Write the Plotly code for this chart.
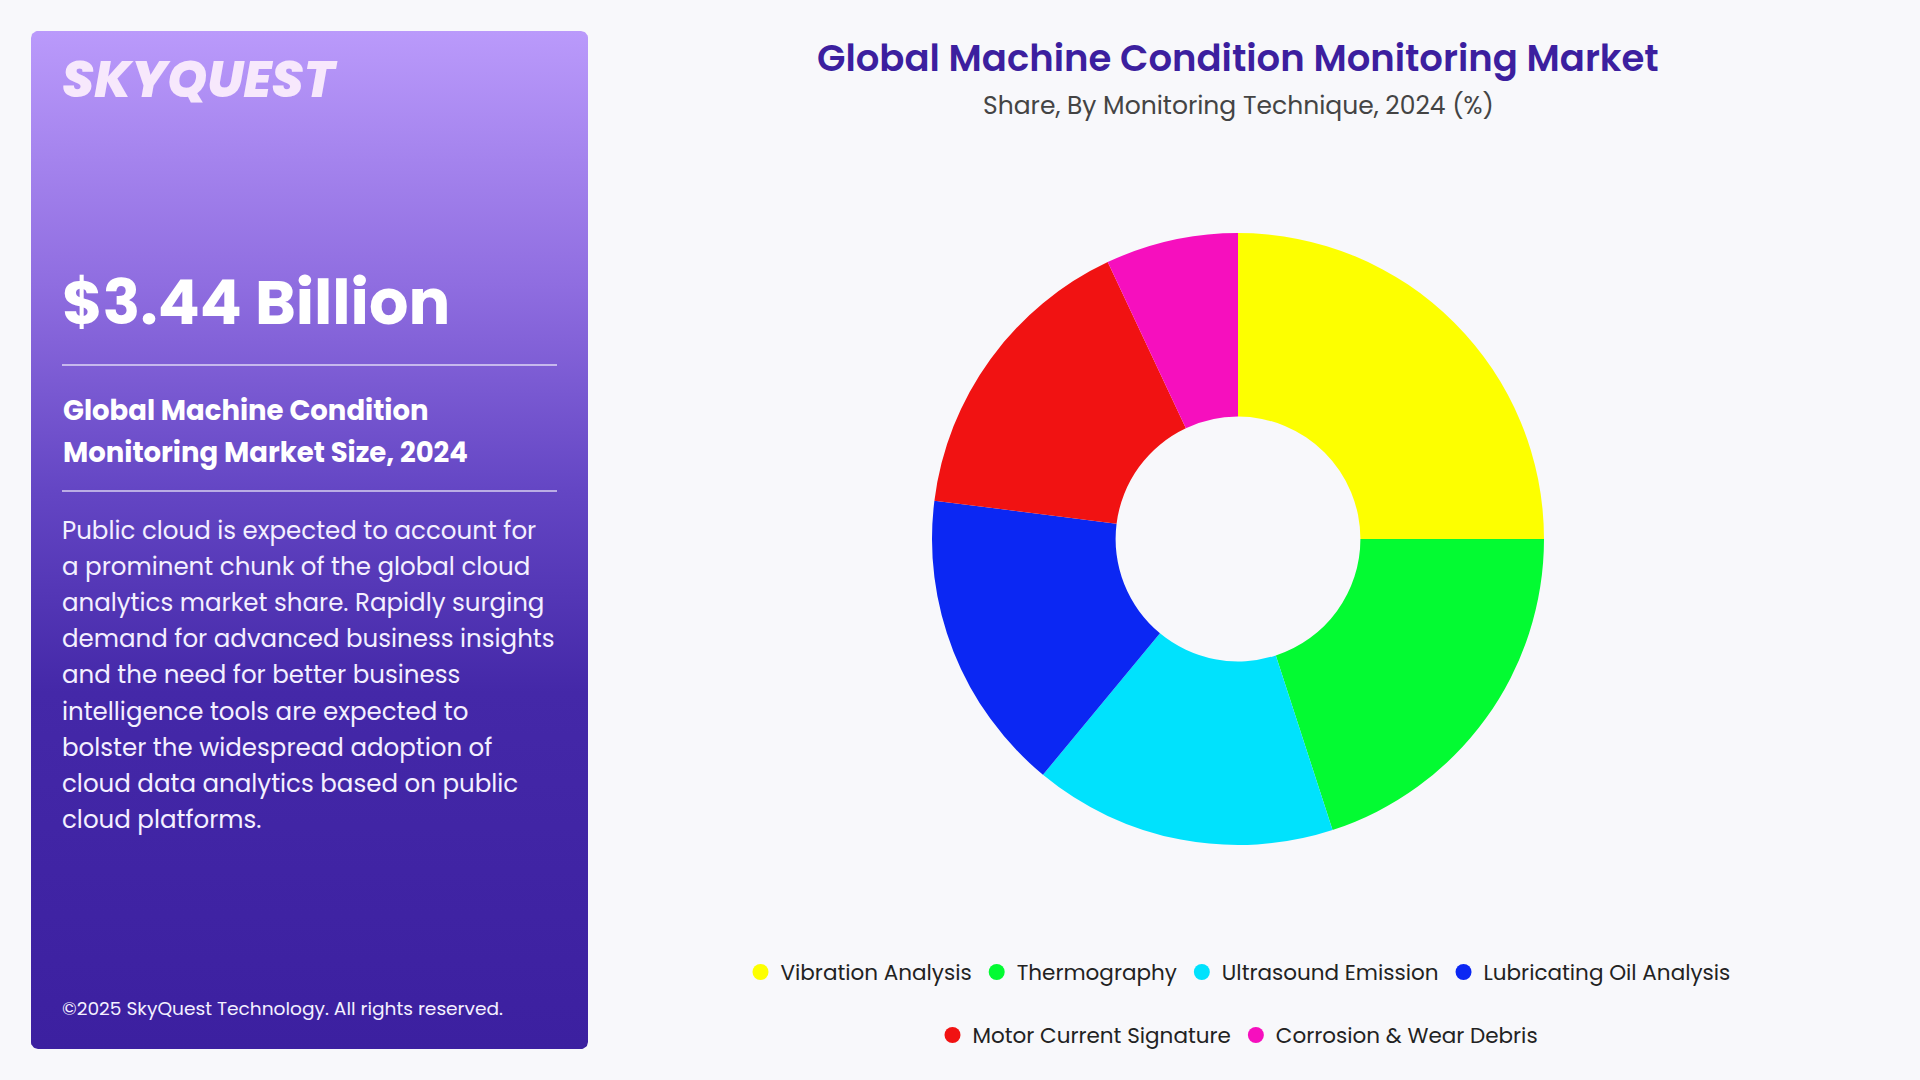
import numpy as np
import plotly.graph_objects as go

# ---------------- data ----------------
categories = ["Vibration Analysis", "Thermography", "Ultrasound Emission",
              "Lubricating Oil Analysis", "Motor Current Signature", "Corrosion & Wear Debris"]
shares = [25, 20, 16, 16, 16, 7]
colors = ["#FDFF00", "#03FB32", "#00E2FD", "#0B27F3", "#F11212", "#F60FBE"]
legend_rows = ["legend", "legend", "legend", "legend", "legend2", "legend2"]

title_text = "Global Machine Condition Monitoring Market"
subtitle_text = "Share, By Monitoring Technique, 2024 (%)"
headline_value = "$3.44 Billion"
headline_label = ["Global Machine Condition", "Monitoring Market Size, 2024"]
paragraph_lines = [
    "Public cloud is expected to account for",
    "a prominent chunk of the global cloud",
    "analytics market share. Rapidly surging",
    "demand for advanced business insights",
    "and the need for better business",
    "intelligence tools are expected to",
    "bolster the widespread adoption of",
    "cloud data analytics based on public",
    "cloud platforms.",
]
copyright_text = "©2025 SkyQuest Technology. All rights reserved."
logo_text = "SKYQUEST"

W, H = 1920, 1080
BG = "#F8F8FB"
FONT = "Poppins, 'Open Sans', sans-serif"

fig = go.Figure()

# ---------------- left panel (gradient rounded rect) ----------------
x0, x1, y0, y1, r = 31, 588, 31, 1049, 7
pts_x, pts_y = [], []
for cx, cy, a0 in [(x1 - r, y0 + r, -90), (x1 - r, y1 - r, 0), (x0 + r, y1 - r, 90), (x0 + r, y0 + r, 180)]:
    ang = np.radians(np.linspace(a0, a0 + 90, 10))
    pts_x += list(cx + r * np.cos(ang))
    pts_y += list(cy + r * np.sin(ang))
pts_x.append(pts_x[0]); pts_y.append(pts_y[0])
fig.add_trace(go.Scatter(
    x=pts_x, y=pts_y, mode="lines", fill="toself", line=dict(width=0),
    fillgradient=dict(type="vertical", start=y0, stop=y1,
                      colorscale=[[0, "#BA9AFB"], [0.25, "#8F6DE0"], [0.45, "#6446C4"],
                                  [0.65, "#4428A8"], [1, "#3C20A0"]]),
    hoverinfo="skip", showlegend=False, xaxis="x", yaxis="y"))

# ---------------- donut ----------------
cx_px, cy_px, R = 1238, 539, 306
fig.add_trace(go.Pie(
    labels=categories, values=shares, marker=dict(colors=colors, line=dict(width=0)),
    hole=0.4, sort=False, direction="clockwise", rotation=0, textinfo="none",
    showlegend=False,
    domain=dict(x=[(cx_px - R) / W, (cx_px + R) / W], y=[1 - (cy_px + R) / H, 1 - (cy_px - R) / H]),
))

# legend entries (two rows)
for cat, col, lg in zip(categories, colors, legend_rows):
    fig.add_trace(go.Scatter(x=[None], y=[None], mode="markers", name=cat,
                             marker=dict(size=16, color=col, symbol="circle"),
                             legend=lg, xaxis="x", yaxis="y"))

# ---------------- text ----------------
ann = []
def txt(x, y, s, size, color="white", weight=400, xanchor="left", italic=False):
    ann.append(dict(x=x, y=y, xref="x", yref="y", text=s, showarrow=False,
                    xanchor=xanchor, yanchor="middle",
                    font=dict(family=FONT, size=size, color=color, weight=weight,
                              style="italic" if italic else "normal")))

txt(60, 79, logo_text, 51, color="#F7E8FC", weight=800, italic=True)
txt(60, 302, headline_value, 62, weight=700)
txt(61, 410, headline_label[0], 27.5, weight=700)
txt(61, 452, headline_label[1], 27.5, weight=700)
for i, line in enumerate(paragraph_lines):
    txt(60, 530 + i * 36.2, line, 24.5, color="#F4F0FF")
txt(60, 1008, copyright_text, 18.6, color="#F4F0FF")
txt(1238, 58, title_text, 37, color="#3C1F9F", weight=600, xanchor="center")
txt(1238, 105, subtitle_text, 25, color="#444444", xanchor="center")

shapes = [dict(type="line", xref="x", yref="y", x0=62, x1=557, y0=yy, y1=yy,
               line=dict(color="rgba(255,255,255,0.75)", width=1.5)) for yy in (365, 491)]

legend_common = dict(orientation="h", xanchor="center", x=cx_px / W, yanchor="middle",
                     bgcolor="rgba(0,0,0,0)", font=dict(family=FONT, size=21.5, color="#222222"),
                     itemclick=False, itemdoubleclick=False)

fig.update_layout(
    width=W, height=H, margin=dict(l=0, r=0, t=0, b=0),
    paper_bgcolor=BG, plot_bgcolor="rgba(0,0,0,0)",
    xaxis=dict(range=[0, W], visible=False, fixedrange=True, domain=[0, 1]),
    yaxis=dict(range=[H, 0], visible=False, fixedrange=True, domain=[0, 1]),
    annotations=ann, shapes=shapes,
    legend=dict(y=1 - 972 / H, **legend_common),
    legend2=dict(y=1 - 1035 / H, **legend_common),
    showlegend=True,
)

fig.write_html("out.html", config={"displayModeBar": False},
               post_script="document.body.style.margin='0';document.body.style.background='%s';" % BG)
